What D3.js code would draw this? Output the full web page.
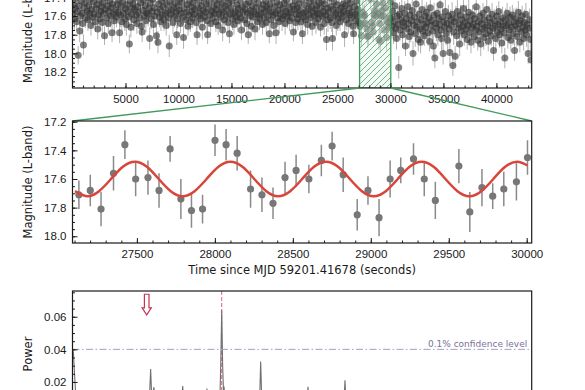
<!DOCTYPE html>
<html>
<head>
<meta charset="utf-8">
<script src="https://cdn.jsdelivr.net/npm/d3@7"></script>
<style>
body { margin: 0; background: #fff; }
svg { display: block; font-family: "DejaVu Sans", sans-serif; }
.tick text { font-size: 11.5px; fill: #1a1a1a; }
.tick line { stroke: #1a1a1a; stroke-width: 1; }
</style>
</head>
<body>
<svg width="585" height="390"></svg>
<script>
// ---- light curve (top panel), magnitudes as hundredths above 17.00 ----
var lcStart = 40;       // seconds, first exposure
var lcStep = 71;        // seconds between exposures
var lateFirstIndex = 423;

var earlyMags = [
  58,47,63,52,41,66,55,102,49,76,60,44,57,68,91,51,46,62,38,55,
  64,49,57,42,70,53,61,45,58,36,66,52,48,74,59,43,63,55,50,67,
  46,57,81,53,40,62,49,68,55,44,60,51,78,47,58,65,39,54,61,48,
  56,43,78,59,50,66,45,57,37,63,52,69,48,55,61,90,44,72,58,51,
  47,64,53,41,59,68,50,56,35,62,46,71,77,54,43,60,49,65,57,40,
  58,52,84,46,63,55,42,69,51,60,38,81,56,88,47,61,53,66,44,59,
  50,64,41,57,70,48,55,62,92,45,58,53,39,67,51,60,46,56,80,63,
  49,54,42,68,57,45,61,83,52,37,64,56,48,71,59,43,66,50,55,62,
  46,58,53,40,67,80,51,60,44,57,63,49,72,54,41,61,56,47,65,80,
  52,45,59,68,38,55,62,50,57,43,66,53,48,70,58,42,61,54,47,75,
  56,64,49,41,60,53,67,46,79,58,51,44,63,57,69,40,55,61,48,65,
  52,58,43,62,75,50,56,39,64,53,47,68,57,80,45,60,54,71,49,61,
  55,42,74,58,51,66,46,59,63,37,57,52,69,48,62,55,44,67,50,60,
  53,79,47,64,56,41,59,70,50,57,78,45,62,54,66,48,58,39,63,52,
  60,46,68,55,43,61,57,50,65,38,56,62,49,77,53,44,67,58,51,63,
  47,59,54,66,42,79,57,61,48,64,55,40,69,52,58,45,62,50,71,56,
  43,60,53,67,49,57,63,46,58,72,51,44,61,55,68,47,59,85,52,64,
  56,41,62,50,67,84,53,45,60,57,70,48,63,54,39,66,58,51,61,47,
  55,80,49,64,57,43,68,52,59,46,62,56,71,79,50,58,65,44,60,53,67
];
var earlyErr = [
  11,10,12,11,13,10,12,10,11,12,10,13,11,12,11,10,12,11,13,10,
  12,11,10,13,11,12,10,11,12,13,11,10,12,11,10,12,13,11,10,12,
  11,13,10,12,11,10,12,11,13,10,12,11,10,12,11,13,10,12,11,10,
  12,10,11,13,12,10,11,12,10,13,11,12,10,11,12,10,13,11,12,11,
  10,12,11,13,10,11,12,10,13,11,12,10,11,12,13,10,11,12,10,11,
  13,11,12,10,11,12,13,10,11,12,10,11,13,12,10,11,12,10,11,13,
  11,12,10,13,11,10,12,11,12,10,13,11,10,12,11,12,10,13,11,10,
  12,11,13,10,12,11,10,12,13,11,10,12,11,10,13,12,11,10,12,11,
  10,13,11,12,10,11,13,12,10,11,12,10,13,11,12,10,11,12,13,10,
  11,12,10,11,13,12,10,11,12,10,11,13,12,10,11,12,10,13,11,12,
  13,10,12,11,10,12,11,13,10,12,11,10,12,13,11,10,12,11,10,12,
  11,12,13,10,11,12,10,11,13,12,10,11,12,10,13,11,12,10,11,12,
  10,11,12,13,10,12,11,10,12,11,13,10,11,12,10,11,13,12,10,11,
  12,10,11,12,13,10,11,12,10,11,12,13,10,11,12,10,11,12,13,10,
  11,13,12,10,11,12,10,13,11,12,10,11,12,10,13,11,12,10,11,12,
  10,12,11,13,10,11,12,10,11,13,12,10,11,12,10,11,13,12,10,11,
  12,11,10,12,13,11,10,12,11,10,12,13,11,10,12,11,10,12,11,13,
  11,10,12,11,10,13,12,11,10,12,11,10,13,11,12,10,11,12,10,11,
  12,13,10,11,12,10,11,13,12,10,11,12,10,11,13,12,10,11,12,10,11
];
var lateMags = [
  62,71,55,78,66,49,73,84,60,69,115,58,75,64,52,80,67,71,57,92,
  63,74,50,68,82,59,77,65,54,100,70,61,79,47,72,66,85,58,74,88,
  64,53,76,69,81,60,72,56,67,78,62,87,51,70,65,76,92,59,105,68,
  73,57,80,63,69,48,75,84,61,100,66,72,55,79,68,86,60,74,99,64,
  70,58,113,77,66,103,62,81,55,73,69,90,59,76,64,71,52,80,67,74,
  61,85,70,56,78,65,88,72,59,69,82,63,75,50,71,86,66,77,60,90,
  68,74,57,83,64,72,79,53,70,87,62,76,67,81,58,73,97,65,71,84,
  60,77,69,55,80,66,74,89,62,71,78,105,64,70,57,83,68,75,61,86,
  72,59,79,66,97,70,63,82,74,56,68,88,65,77,60,72,84,67,75,58,
  80,69,100,73,64,85,107
];
var lateErr = [
  12,13,11,12,14,11,13,12,11,14,12,13,11,12,13,14,11,12,13,11,
  13,12,14,11,12,13,11,14,12,13,11,12,14,13,11,12,13,11,14,12,
  11,13,12,14,11,12,13,11,12,14,13,11,12,13,11,14,12,13,11,12,
  14,11,12,13,11,12,14,13,11,12,13,11,14,12,13,11,12,13,14,11,
  12,13,11,14,12,11,13,12,14,11,12,13,11,12,14,13,11,12,13,11,
  13,11,12,14,13,11,12,13,11,14,12,13,11,12,13,11,14,12,11,13,
  12,14,11,13,12,11,13,14,12,11,13,12,14,11,12,13,11,12,14,13,
  11,12,13,11,14,12,13,11,12,13,14,11,12,13,11,12,14,13,11,12,
  13,11,12,14,11,13,12,11,13,12,14,11,12,13,11,12,13,14,11,12,
  13,12,11,14,12,13,12
];

// ---- zoomed window (middle panel) ----
var zoomWindow = [27087, 30032];
var zoomTimes = [27128,27201,27270,27350,27423,27492,27571,27642,27713,27782,
  27850,27921,28001,28072,28143,28229,28302,28373,28450,28521,
  28603,28683,28752,28823,28913,28982,29053,29124,29192,29274,
  29343,29414,29565,29635,29713,29782,29853,29934,30005];
var zoomMags = [17.71,17.68,17.81,17.56,17.36,17.60,17.59,17.68,17.39,17.74,
  17.82,17.81,17.33,17.36,17.42,17.67,17.71,17.77,17.59,17.54,
  17.60,17.47,17.37,17.57,17.85,17.68,17.87,17.60,17.54,17.46,
  17.60,17.75,17.51,17.83,17.66,17.72,17.67,17.62,17.45];
var zoomErr = [0.10,0.11,0.12,0.12,0.10,0.12,0.12,0.12,0.09,0.14,
  0.12,0.10,0.11,0.11,0.12,0.13,0.12,0.11,0.11,0.11,
  0.10,0.11,0.10,0.12,0.11,0.10,0.13,0.13,0.09,0.11,
  0.12,0.13,0.12,0.14,0.13,0.09,0.12,0.13,0.12];

// sinusoid fit
var fitTimes = [27103,27180,27257,27334,27410,27487,27564,27640,27717,27793,
  27870,27947,28023,28100,28177,28253,28330,28406,28483,28560,
  28636,28713,28790,28866,28943,29019,29096,29173,29249,29326,
  29403,29479,29556,29632,29709,29786,29862,29939,30005];
var fitMags = [17.685,17.72,17.685,17.60,17.515,17.48,17.515,17.60,17.685,17.72,
  17.685,17.60,17.515,17.48,17.515,17.60,17.685,17.72,17.685,17.60,
  17.515,17.48,17.515,17.60,17.685,17.72,17.685,17.60,17.515,17.48,
  17.515,17.60,17.685,17.72,17.685,17.60,17.515,17.48,17.506];

// ---- periodogram (bottom panel), frequency in mHz ----
var powFreq = [0,0.01,0.025,0.04,0.08,0.15,0.22,0.30,0.38,0.45,0.52,0.60,0.68,0.75,
  0.79,0.83,0.839,0.851,0.863,0.876,0.887,0.899,0.95,1.02,1.10,1.16,1.187,1.200,1.213,
  1.26,1.33,1.40,1.451,1.464,1.477,1.53,1.58,1.605,1.614,1.6246,1.635,1.644,1.650,1.662,
  1.72,1.80,1.88,1.95,2.00,2.036,2.049,2.062,2.12,2.20,2.30,2.40,2.50,2.551,2.564,2.577,
  2.65,2.75,2.85,2.954,2.967,2.980,3.05,3.2,3.4,3.6,3.8,4.0,4.2,4.4,4.6,4.8,5.0];
var powVal = [0.040,0.038,0.022,0.008,0.004,0.006,0.003,0.007,0.004,0.008,0.003,0.006,0.004,0.009,
  0.005,0.006,0.012,0.028,0.010,0.013,0.0168,0.006,0.004,0.008,0.005,0.007,0.005,0.0175,0.005,
  0.007,0.003,0.008,0.004,0.016,0.004,0.006,0.009,0.010,0.030,0.064,0.030,0.014,0.0172,0.006,
  0.008,0.004,0.009,0.005,0.007,0.006,0.0325,0.006,0.008,0.004,0.009,0.005,0.007,0.005,0.017,0.005,
  0.008,0.004,0.009,0.005,0.021,0.005,0.008,0.004,0.009,0.005,0.007,0.004,0.008,0.005,0.007,0.004,0.006];
var bestFreq = 1.6246;
var confLevel = 0.04;
var confLabel = '0.1% confidence level';
var arrowFreq = 0.808, arrowTop = 0.0738, arrowTip = 0.0612;

// ---- layout ----
var svg = d3.select('svg');
var plotLeft = 72.5, plotRight = 531.7;
var topPanel = {top: -35, bottom: 88};
var midPanel = {top: 121, bottom: 243};
var powPanel = {top: 291, bottom: 417};
var green = '#3f9a5b';

var xTop = d3.scaleLinear().domain([0, 43330]).range([plotLeft, plotRight]);
var yTop = d3.scaleLinear().domain([17.053, 18.371]).range([topPanel.top, topPanel.bottom]);
var xMid = d3.scaleLinear().domain(zoomWindow).range([plotLeft, plotRight]);
var yMid = d3.scaleLinear().domain([17.195, 18.047]).range([midPanel.top, midPanel.bottom]);
var xPow = d3.scaleLinear().domain([0, 5]).range([plotLeft, plotRight]);
var yPow = d3.scaleLinear().domain([-0.0015, 0.0758]).range([powPanel.bottom, powPanel.top]);

// build light-curve points
var lcPoints = [];
earlyMags.forEach(function(m, i) {
  lcPoints.push({t: lcStart + i * lcStep, m: 17 + m / 100, e: earlyErr[i] / 100});
});
zoomTimes.forEach(function(t, i) {
  lcPoints.push({t: t, m: zoomMags[i], e: zoomErr[i]});
});
lateMags.forEach(function(m, i) {
  lcPoints.push({t: lcStart + (lateFirstIndex + i) * lcStep, m: 17 + m / 100, e: lateErr[i] / 100});
});
var zoomPoints = zoomTimes.map(function(t, i) { return {t: t, m: zoomMags[i], e: zoomErr[i]}; });

var defs = svg.append('defs');
function addClip(id, panel) {
  defs.append('clipPath').attr('id', id).append('rect')
    .attr('x', plotLeft).attr('y', panel.top)
    .attr('width', plotRight - plotLeft).attr('height', panel.bottom - panel.top);
}
addClip('clipTop', topPanel);
addClip('clipMid', midPanel);
addClip('clipPow', powPanel);

// hatch pattern for the zoom window
var pat = defs.append('pattern').attr('id', 'hatch')
  .attr('patternUnits', 'userSpaceOnUse').attr('width', 6).attr('height', 6);
pat.append('path').attr('d', 'M-1,1 l2,-2 M0,6 l6,-6 M5,7 l2,-2')
  .attr('stroke', green).attr('stroke-width', 0.9).attr('opacity', 0.8);

// axes helper: inward ticks, minor ticks, no domain path
// labels only for ticks that fall inside the picture
function drawAxes(xs, ys, panel, xMajor, xMinor, yMajor, yMinor, xFmt, yFmt) {
  var g;
  if (xMajor) {
    g = svg.append('g').attr('transform', 'translate(0,' + panel.bottom + ')')
      .call(d3.axisBottom(xs).tickValues(xMinor).tickSize(-2.5).tickFormat(''));
    g.select('.domain').remove();
    g = svg.append('g').attr('transform', 'translate(0,' + panel.bottom + ')')
      .call(d3.axisBottom(xs).tickValues(xMajor).tickSizeInner(-5).tickSizeOuter(0)
        .tickPadding(7).tickFormat(xFmt));
    g.select('.domain').remove();
  }
  g = svg.append('g').attr('transform', 'translate(' + plotLeft + ',0)')
    .call(d3.axisLeft(ys).tickValues(yMinor).tickSize(-2.5).tickFormat(''));
  g.select('.domain').remove();
  g = svg.append('g').attr('transform', 'translate(' + plotLeft + ',0)')
    .call(d3.axisLeft(ys).tickValues(yMajor).tickSizeInner(-5).tickSizeOuter(0)
      .tickPadding(6).tickFormat(yFmt));
  g.select('.domain').remove();
  svg.selectAll('.tick text').attr('font-family', null);
  svg.append('rect')
    .attr('x', plotLeft).attr('y', panel.top)
    .attr('width', plotRight - plotLeft).attr('height', panel.bottom - panel.top)
    .attr('fill', 'none').attr('stroke', '#1a1a1a').attr('stroke-width', 1.2);
}

function yLabel(text, panel) {
  svg.append('text')
    .attr('transform', 'translate(32.4,' + ((panel.top + panel.bottom) / 2) + ') rotate(-90)')
    .attr('text-anchor', 'middle')
    .attr('font-size', '11.5px')
    .attr('fill', '#1a1a1a')
    .text(text);
}

// ===== top panel: full light curve =====
var gTop = svg.append('g').attr('clip-path', 'url(#clipTop)');
gTop.selectAll('line.err').data(lcPoints).enter().append('line')
  .attr('x1', function(d) { return xTop(d.t); })
  .attr('x2', function(d) { return xTop(d.t); })
  .attr('y1', function(d) { return yTop(d.m - d.e); })
  .attr('y2', function(d) { return yTop(d.m + d.e); })
  .attr('stroke', '#555').attr('stroke-opacity', 0.45).attr('stroke-width', 1);
gTop.selectAll('circle').data(lcPoints).enter().append('circle')
  .attr('cx', function(d) { return xTop(d.t); })
  .attr('cy', function(d) { return yTop(d.m); })
  .attr('r', 3.5)
  .attr('fill', '#333').attr('fill-opacity', 0.62);

// zoom window highlight
gTop.append('rect')
  .attr('x', xTop(zoomWindow[0])).attr('y', topPanel.top)
  .attr('width', xTop(zoomWindow[1]) - xTop(zoomWindow[0]))
  .attr('height', topPanel.bottom - topPanel.top)
  .attr('fill', '#e3f3e8').attr('fill-opacity', 0.4);
gTop.append('rect')
  .attr('x', xTop(zoomWindow[0])).attr('y', topPanel.top)
  .attr('width', xTop(zoomWindow[1]) - xTop(zoomWindow[0]))
  .attr('height', topPanel.bottom - topPanel.top)
  .attr('fill', 'url(#hatch)').attr('stroke', green).attr('stroke-width', 1.3);

var topXMajor = d3.range(5000, 40001, 5000);
var topXMinor = d3.range(1000, 43001, 1000);
var topYMajor = [17.4, 17.6, 17.8, 18.0, 18.2];
var topYMinor = d3.range(17.05, 18.37, 0.05);
drawAxes(xTop, yTop, topPanel, topXMajor, topXMinor, topYMajor, topYMinor,
  d3.format('d'), d3.format('.1f'));
yLabel('Magnitude (L-band)', topPanel);

// connector lines from window to middle panel
svg.append('line')
  .attr('x1', xTop(zoomWindow[0])).attr('y1', topPanel.bottom)
  .attr('x2', xMid(zoomWindow[0])).attr('y2', midPanel.top)
  .attr('stroke', green).attr('stroke-width', 1.3);
svg.append('line')
  .attr('x1', xTop(zoomWindow[1])).attr('y1', topPanel.bottom)
  .attr('x2', xMid(zoomWindow[1])).attr('y2', midPanel.top)
  .attr('stroke', green).attr('stroke-width', 1.3);

// ===== middle panel: zoom with sinusoid =====
var gMid = svg.append('g').attr('clip-path', 'url(#clipMid)');
gMid.selectAll('line.err').data(zoomPoints).enter().append('line')
  .attr('x1', function(d) { return xMid(d.t); })
  .attr('x2', function(d) { return xMid(d.t); })
  .attr('y1', function(d) { return yMid(d.m - d.e); })
  .attr('y2', function(d) { return yMid(d.m + d.e); })
  .attr('stroke', '#8a8a8a').attr('stroke-width', 1.5);
gMid.selectAll('circle').data(zoomPoints).enter().append('circle')
  .attr('cx', function(d) { return xMid(d.t); })
  .attr('cy', function(d) { return yMid(d.m); })
  .attr('r', 3.6)
  .attr('fill', '#777');

var fitLine = d3.line()
  .x(function(d, i) { return xMid(fitTimes[i]); })
  .y(function(d) { return yMid(d); })
  .curve(d3.curveNatural);
gMid.append('path').datum(fitMags)
  .attr('d', fitLine)
  .attr('fill', 'none').attr('stroke', '#d9453b').attr('stroke-width', 2.5);

drawAxes(xMid, yMid, midPanel, [27500, 28000, 28500, 29000, 29500, 30000],
  d3.range(27100, 30001, 100), [17.2, 17.4, 17.6, 17.8, 18.0],
  d3.range(17.2, 18.04, 0.05), d3.format('d'), d3.format('.1f'));
yLabel('Magnitude (L-band)', midPanel);
svg.append('text')
  .attr('x', (plotLeft + plotRight) / 2).attr('y', 274)
  .attr('text-anchor', 'middle').attr('font-size', '11.5px').attr('fill', '#1a1a1a')
  .text('Time since MJD 59201.41678 (seconds)');

// ===== bottom panel: periodogram =====
var gPow = svg.append('g').attr('clip-path', 'url(#clipPow)');
gPow.append('line')
  .attr('x1', xPow(bestFreq)).attr('x2', xPow(bestFreq))
  .attr('y1', powPanel.top).attr('y2', powPanel.bottom)
  .attr('stroke', '#e0607a').attr('stroke-width', 1).attr('stroke-dasharray', '4,2');
var powLine = d3.line()
  .x(function(d, i) { return xPow(powFreq[i]); })
  .y(function(d) { return yPow(d); });
gPow.append('path').datum(powVal)
  .attr('d', powLine)
  .attr('fill', 'none').attr('stroke', '#6f6f6f').attr('stroke-width', 1.1);
gPow.append('line')
  .attr('x1', plotLeft).attr('x2', plotRight)
  .attr('y1', yPow(confLevel)).attr('y2', yPow(confLevel))
  .attr('stroke', '#a69dc2').attr('stroke-width', 1)
  .attr('stroke-dasharray', '7,2.5,1.5,2.5');
svg.append('text')
  .attr('x', plotRight - 4.5).attr('y', yPow(confLevel) - 2.5)
  .attr('text-anchor', 'end').attr('font-size', '9px').attr('fill', '#7a7097')
  .text(confLabel);

// hollow arrow marking the candidate frequency
var ax = xPow(arrowFreq), ay0 = yPow(arrowTop), ay1 = yPow(arrowTip);
var headLen = 7, shaftHalf = 2.3, headHalf = 4.6;
var arrowPath = d3.path();
arrowPath.moveTo(ax - shaftHalf, ay0);
arrowPath.lineTo(ax + shaftHalf, ay0);
arrowPath.lineTo(ax + shaftHalf, ay1 - headLen);
arrowPath.lineTo(ax + headHalf, ay1 - headLen);
arrowPath.lineTo(ax, ay1);
arrowPath.lineTo(ax - headHalf, ay1 - headLen);
arrowPath.lineTo(ax - shaftHalf, ay1 - headLen);
arrowPath.closePath();
svg.append('path').attr('d', arrowPath.toString())
  .attr('fill', '#fff').attr('stroke', '#c8324e').attr('stroke-width', 1.2);

// frequency axis sits below the picture edge, so only the y axis is drawn
drawAxes(xPow, yPow, powPanel, null, null,
  [0.02, 0.04, 0.06], d3.range(0.005, 0.0751, 0.005), null, d3.format('.2f'));
yLabel('Power', powPanel);
</script>
</body>
</html>
